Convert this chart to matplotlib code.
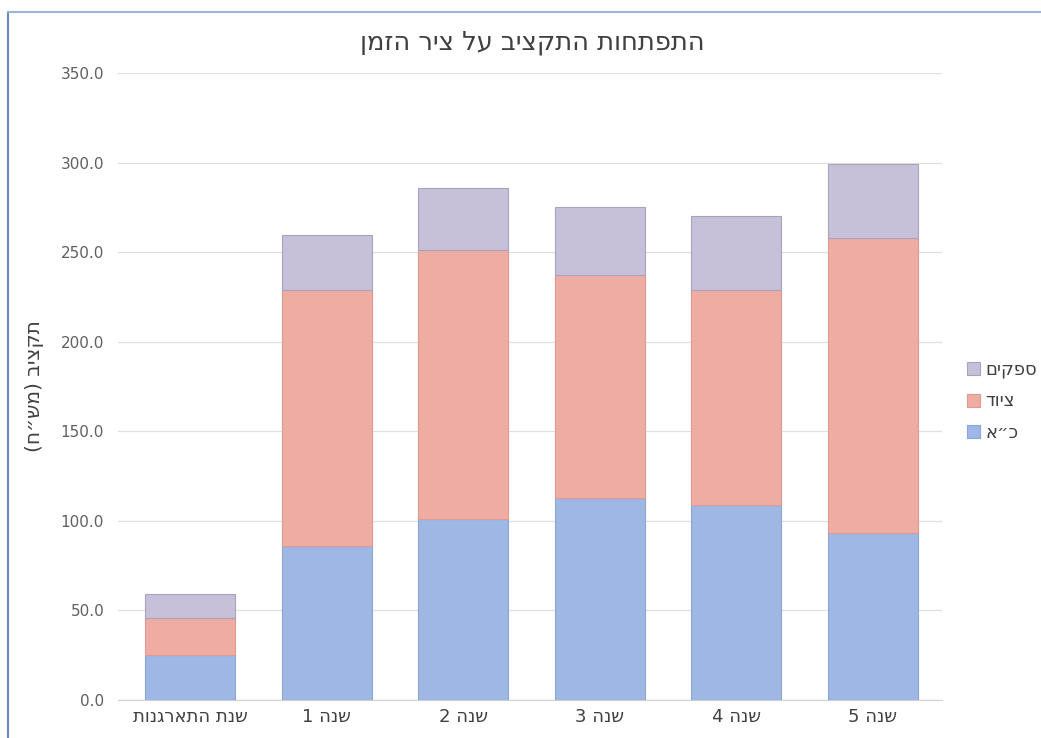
import matplotlib
matplotlib.use('agg')
import matplotlib.pyplot as plt
import numpy as np

plt.rcParams['font.family'] = ['DejaVu Sans', 'Liberation Sans']

# Hebrew strings are stored in visual (left-to-right) order
categories = ["תונגראתה תנש", "1 הנש", "2 הנש", "3 הנש", "4 הנש", "5 הנש"]
manpower = [25, 86, 101, 113, 109, 93]      # כ"א
equipment = [21, 143, 150, 124, 120, 165]   # ציוד
suppliers = [13, 30.5, 35, 38, 41, 41]      # ספקים
series_names = ["א״כ", "דויצ", "םיקפס"]
yticks = [0, 50, 100, 150, 200, 250, 300, 350]

fig = plt.figure(figsize=(10.41, 7.38), dpi=100)
ax = fig.add_axes([0.1134, 0.0515, 0.7916, 0.8495])

x = np.arange(len(categories))
w = 0.66
b1 = ax.bar(x, manpower, w, color="#9fb7e5", edgecolor="#8ca4d6", linewidth=0.8,
            label=series_names[0], zorder=3)
b2 = ax.bar(x, equipment, w, bottom=manpower, color="#efaca2", edgecolor="#dc9a92",
            linewidth=0.8, label=series_names[1], zorder=3)
bottom2 = np.array(manpower) + np.array(equipment)
b3 = ax.bar(x, suppliers, w, bottom=bottom2, color="#c6c1d8", edgecolor="#a9a3c2",
            linewidth=0.8, label=series_names[2], zorder=3)

ax.set_xlim(-0.53, 5.51)
ax.set_ylim(0, 350)
ax.set_yticks(yticks)
ax.set_yticklabels(["%.1f" % v for v in yticks], fontsize=11, color="#606060")
ax.set_xticks(x)
ax.set_xticklabels(categories, fontsize=13, color="#404040")
ax.tick_params(length=0, pad=10)
ax.tick_params(axis='x', pad=6)
ax.grid(axis='y', color="#e0e0e0", linewidth=0.9, zorder=0)
for s in ['left', 'right', 'top']:
    ax.spines[s].set_visible(False)
ax.spines['bottom'].set_color("#d0d0d0")

ax.set_ylabel("(ח״שמ) ביצקת", fontsize=14.5, color="#404040", labelpad=12)
fig.text(0.511, 0.943, "ןמזה ריצ לע ביצקתה תוחתפתה", ha='center', va='center',
         fontsize=18.5, color="#404040")

fig.legend([b3, b2, b1], [series_names[2], series_names[1], series_names[0]],
           loc='center left', bbox_to_anchor=(0.913, 0.456), frameon=False,
           fontsize=13, handlelength=0.75, handleheight=0.75, handletextpad=0.3,
           labelspacing=0.75, labelcolor="#404040")

# outer frame lines
fig.add_artist(plt.Line2D([0.008, 0.008], [0, 0.984], color="#6f86c4", linewidth=1.5))
fig.add_artist(plt.Line2D([0.008, 1.0], [0.984, 0.984], color="#9fb2dc", linewidth=1.5))

fig.savefig("out.png", dpi=100)
